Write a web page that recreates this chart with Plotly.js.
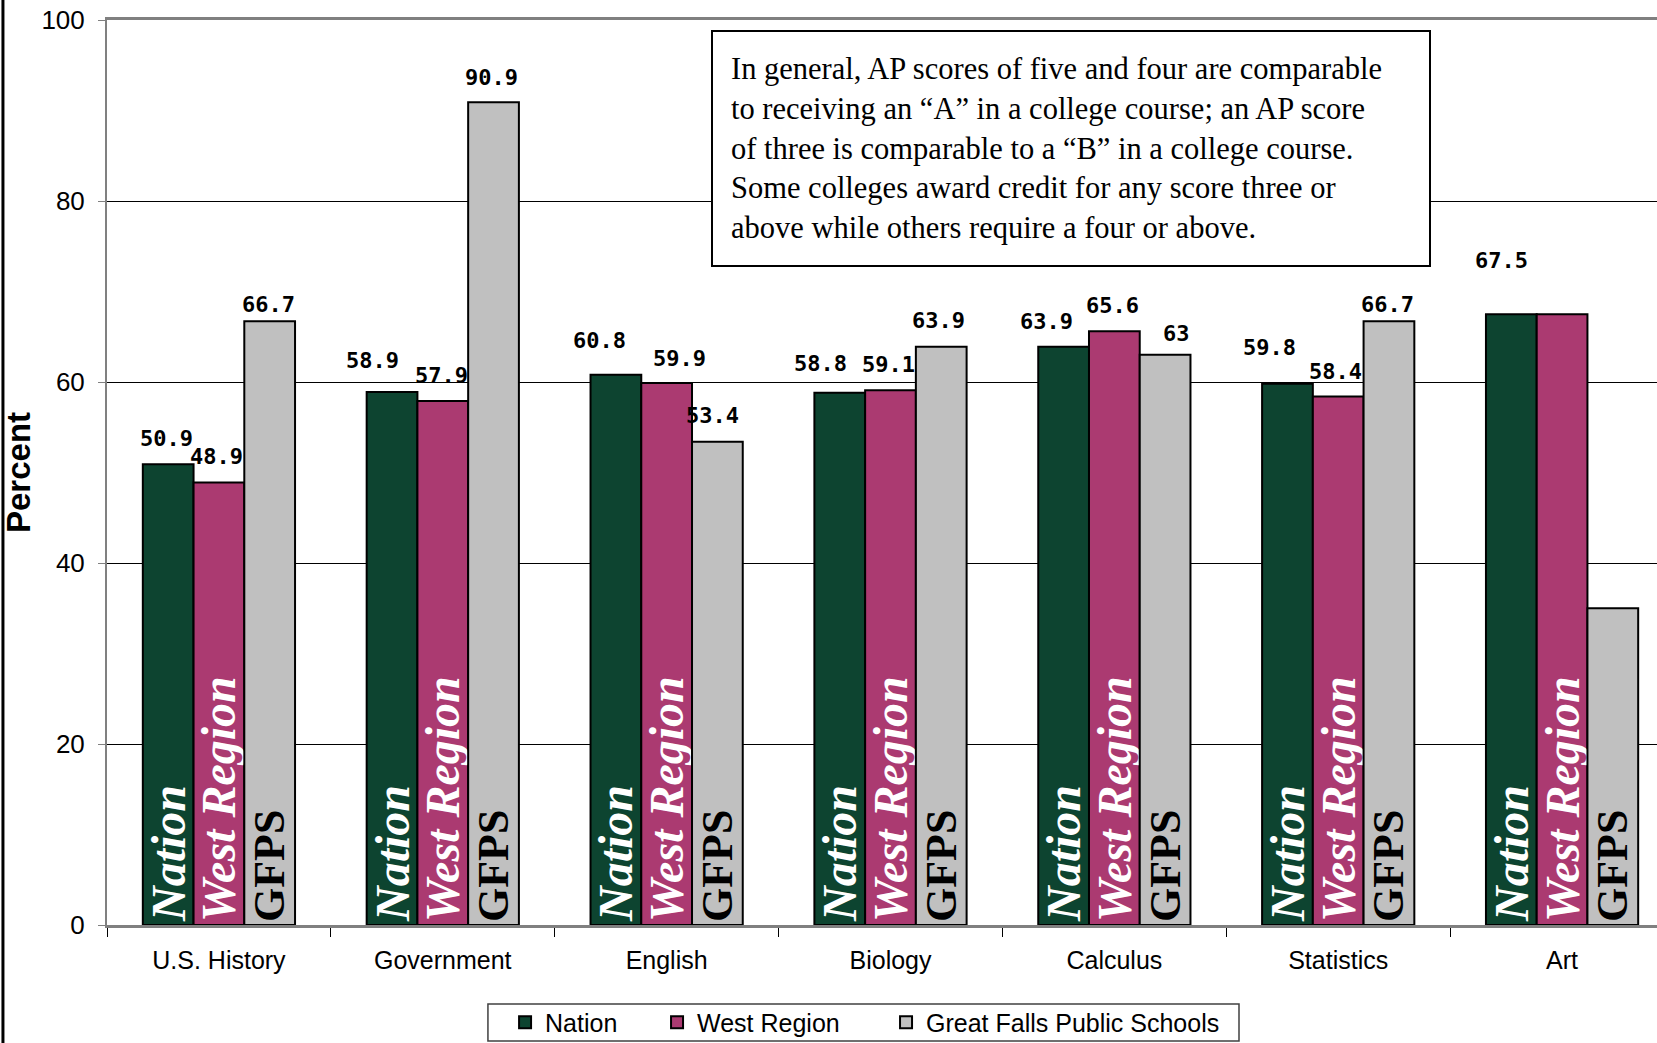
<!DOCTYPE html>
<html>
<head>
<meta charset="utf-8">
<script src="https://cdn.plot.ly/plotly-3.0.1.min.js"></script>
<style>
html,body{margin:0;padding:0;background:#fff;overflow:hidden;}
#chart{width:1700px;height:1043px;}
</style>
</head>
<body>
<div id="chart"></div>
<script>
// ---- data ----
const categories = ["U.S. History", "Government", "English", "Biology", "Calculus", "Statistics", "Art"];
const seriesNames = ["Nation", "West Region", "Great Falls Public Schools"];
const barTags = ["Nation", "West Region", "GFPS"];
const nation = [50.9, 58.9, 60.8, 58.8, 63.9, 59.8, 67.5];
const westRegion = [48.9, 57.9, 59.9, 59.1, 65.6, 58.4, 67.5];
const gfps = [66.7, 90.9, 53.4, 63.9, 63, 66.7, 35];
const labelNation = ["50.9", "58.9", "60.8", "58.8", "63.9", "59.8", "67.5"];
const labelWest = ["48.9", "57.9", "59.9", "59.1", "65.6", "58.4", ""];
const labelGfps = ["66.7", "90.9", "53.4", "63.9", "63", "66.7", ""];
const yTicks = [0, 20, 40, 60, 80, 100];
const noteText = "In general, AP scores of five and four are comparable<br>to receiving an \u201cA\u201d in a college course; an AP score<br>of three is comparable to a \u201cB\u201d in a college course.<br>Some colleges award credit for any score three or<br>above while others require a four or above.";

// ---- styles ----
const colors = ["#0d4430", "#ab3a71", "#c0c0c0"];
const tagColors = ["#ffffff", "#ffffff", "#000000"];
const tagStyles = ["italic", "italic", "normal"];
const tagSizes = [48, 48, 44];
const bargap = 0.32;
const legendIds = ["legend", "legend2", "legend3"];
const legendX = [0.2971, 0.3865, 0.5212];   // container fractions
// pixel nudges for the value labels (style only)
const nudgeX = [[-2,-20,-16,-19,-17,-18,-10],[-2,-1,13,-2,-2,-3,0],[-1,-2,-5,-3,11,-1,0]];
const nudgeY = [[26,31,34,29,25,36,54],[26,26,24,26,26,25,0],[17,25,26,26,21,17,0]];

const values = [nation, westRegion, gfps];
const labels = [labelNation, labelWest, labelGfps];

const traces = values.map((v, s) => ({
  type: "bar",
  name: seriesNames[s],
  legend: legendIds[s],
  x: categories,
  y: v,
  marker: {color: colors[s], line: {color: "#000000", width: 2}},
  text: categories.map(() => barTags[s]),
  texttemplate: "%{text}",
  textposition: "inside",
  insidetextanchor: "start",
  textangle: -90,
  constraintext: "none",
  insidetextfont: {family: "Liberation Serif", size: tagSizes[s], color: tagColors[s], weight: "bold", style: tagStyles[s]},
  hoverinfo: "skip"
}));

const barW = (1 - bargap) / 3;
const annotations = [];
values.forEach((v, s) => {
  v.forEach((val, i) => {
    if (!labels[s][i]) return;
    annotations.push({
      x: i + (s - 1) * barW, y: val, xref: "x", yref: "y",
      text: labels[s][i], showarrow: false,
      xanchor: "center", yanchor: "middle",
      xshift: nudgeX[s][i], yshift: nudgeY[s][i],
      font: {family: "DejaVu Sans Mono", size: 22, color: "#000", weight: "bold"}
    });
  });
});
annotations.push({
  xref: "paper", yref: "paper", x: 0.3855, y: 0.989,
  xanchor: "left", yanchor: "top",
  text: noteText, showarrow: false, align: "left", valign: "middle",
  width: 680, height: 197, borderpad: 18,
  bordercolor: "#000", borderwidth: 2, bgcolor: "#ffffff",
  font: {family: "Liberation Serif", size: 30.5, color: "#000"}
});

function legendCfg(i) {
  return {
    orientation: "h", xref: "container", yref: "container",
    x: legendX[i], xanchor: "left", y: 0.0197, yanchor: "middle",
    borderwidth: 0, bgcolor: "rgba(0,0,0,0)",
    font: {family: "Liberation Sans", size: 25, color: "#000"},
    itemwidth: 30
  };
}

const layout = {
  width: 1700, height: 1043,
  margin: {l: 107, r: 26, t: 20, b: 118, autoexpand: false},
  paper_bgcolor: "#ffffff", plot_bgcolor: "#ffffff",
  barmode: "group", bargap: bargap, bargroupgap: 0,
  showlegend: true,
  font: {family: "Liberation Sans", color: "#000"},
  xaxis: {
    type: "category", tickson: "boundaries", ticks: "outside", ticklen: 9, tickcolor: "#000", tickwidth: 1,
    showline: true, linecolor: "#808080", linewidth: 3, mirror: true,
    tickfont: {family: "Liberation Sans", size: 25, color: "#000"},
    ticklabelstandoff: 11,
    showgrid: false, automargin: false, fixedrange: true
  },
  yaxis: {
    range: [0, 100], tickvals: yTicks, ticks: "outside", ticklen: 7, tickcolor: "#808080",
    showline: true, linecolor: "#808080", linewidth: 2,
    showgrid: true, gridcolor: "#000000", gridwidth: 1, zeroline: false,
    tickfont: {family: "Liberation Sans", size: 26, color: "#000"},
    ticklabelstandoff: 8,
    title: {text: "Percent", font: {family: "Liberation Sans", size: 33, color: "#000", weight: "bold"}, standoff: 6},
    automargin: true, fixedrange: true
  },
  legend: legendCfg(0),
  legend2: legendCfg(1),
  legend3: legendCfg(2),
  annotations: annotations,
  shapes: [{
    type: "line", xref: "paper", yref: "paper",
    x0: -0.0664, x1: -0.0664, y0: -0.2, y1: 1.05,
    line: {color: "#000", width: 3}, layer: "above"
  }, {
    type: "rect", xref: "paper", yref: "paper",
    x0: 0.2431, x1: 0.7224, y0: -0.1282, y1: -0.0873,
    line: {color: "#404040", width: 1.5}, fillcolor: "rgba(0,0,0,0)", layer: "above"
  }]
};

Plotly.newPlot("chart", traces, layout, {displayModeBar: false, staticPlot: true});
</script>
</body>
</html>
